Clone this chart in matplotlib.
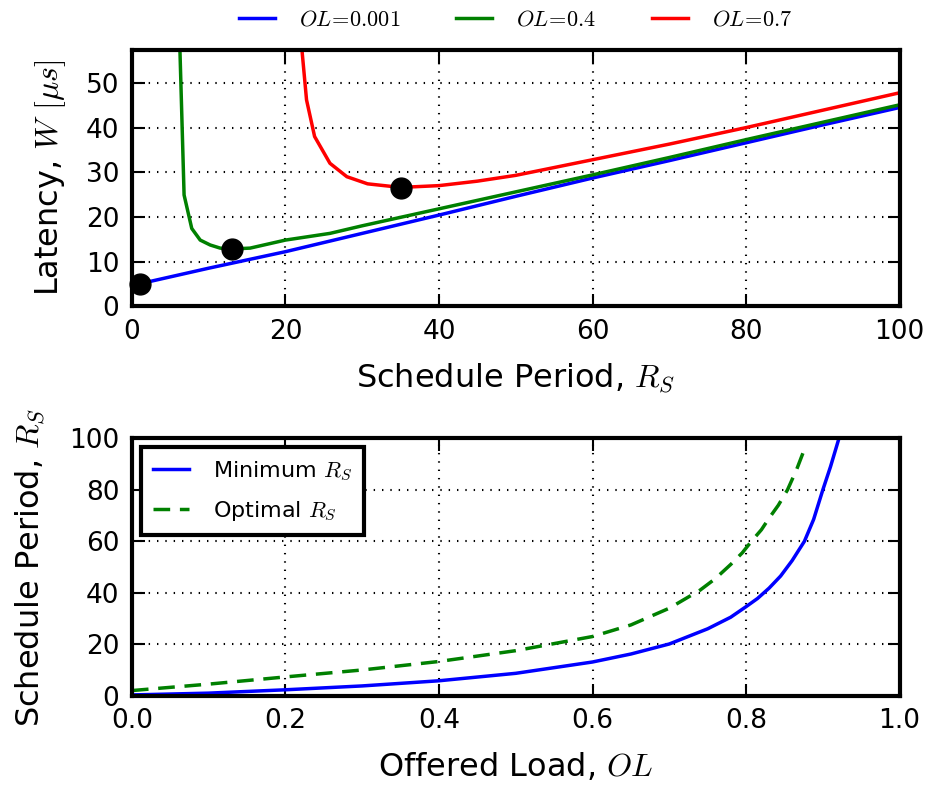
import numpy as np
import matplotlib
matplotlib.use("Agg")
import matplotlib.pyplot as plt

plt.rcParams['mathtext.fontset'] = 'cm'
plt.rcParams['font.family'] = 'DejaVu Sans'
plt.rcParams['lines.scale_dashes'] = False

# latency vs schedule period, one curve per offered load
rs_low = [1, 10, 20, 30, 40, 50, 60, 70, 80, 90, 100]
w_low = [5.0, 8.5, 12.2, 16.3, 20.4, 24.6, 28.7, 32.6, 36.6, 40.6, 44.5]

rs_mid = [5.8, 6.8, 7.8, 8.9, 10.2, 11.5, 12.9, 15.4, 20, 25.8, 30, 40, 50, 60, 70, 80, 90, 100]
w_mid = [85, 24.9, 17.4, 14.8, 13.7, 13.0, 12.8, 13.0, 14.8, 16.3, 18.0, 21.8, 25.6, 29.4, 33.3, 37.3, 41.2, 45.1]

rs_high = [21.8, 22.75, 23.8, 25.8, 28.0, 30.7, 35, 40, 45, 50, 60, 70, 80, 90, 100]
w_high = [64, 46.2, 38.0, 32.0, 29.0, 27.4, 26.6, 27.0, 28.0, 29.3, 32.8, 36.3, 40.0, 43.9, 47.8]

ol_labels = [r'$OL\!=\!0.001$', r'$OL\!=\!0.4$', r'$OL\!=\!0.7$']
ol_colors = ['blue', 'green', 'red']

# optimal points (black dots)
opt_rs = [1, 13, 35]
opt_w = [5.0, 12.9, 26.5]

# schedule period vs offered load
ol_min = [0.0, 0.1, 0.2, 0.3, 0.4, 0.5, 0.6, 0.65, 0.7, 0.75, 0.78, 0.8, 0.815, 0.83,
          0.845, 0.86, 0.876, 0.888, 0.90, 0.91, 0.921]
rs_min = [0.3, 1.0, 2.3, 3.8, 5.8, 8.7, 13.1, 16.2, 20.1, 26.0, 30.5, 34.6, 37.8, 41.8,
          46.5, 52.5, 60.0, 68.5, 80.0, 89.0, 100.0]

ol_opt = [0.0, 0.1, 0.2, 0.3, 0.4, 0.5, 0.6, 0.65, 0.7, 0.74, 0.76, 0.78, 0.795, 0.807,
          0.82, 0.83, 0.842, 0.854, 0.866, 0.8776]
rs_opt = [2.0, 4.5, 7.3, 10.0, 13.3, 17.5, 23.0, 27.5, 34.0, 41.0, 45.5, 51.0, 55.5, 60.0,
          64.5, 69.0, 74.0, 80.0, 88.0, 97.0]

fig = plt.figure(figsize=(9.42, 7.87), dpi=100)
ax1 = fig.add_axes([0.140, 0.611, 0.815, 0.325])
ax2 = fig.add_axes([0.140, 0.116, 0.815, 0.327])

lines = []
for xs, ys, c, lab in zip([rs_low, rs_mid, rs_high], [w_low, w_mid, w_high], ol_colors, ol_labels):
    l, = ax1.plot(xs, ys, color=c, lw=2.5, label=lab)
    lines.append(l)
ax1.plot(opt_rs, opt_w, 'o', color='black', markersize=15, zorder=5, clip_on=False)
ax1.set_xlim(0, 100)
ax1.set_ylim(0, 57.3)
ax1.set_yticks([0, 10, 20, 30, 40, 50])
ax1.set_xlabel(r'Schedule Period, $R_S$', fontsize=23, labelpad=12)
ax1.set_ylabel(r'Latency, $W\ [\mu s]$', fontsize=23)

fig.legend(handles=lines, loc='center', bbox_to_anchor=(0.548, 0.975), ncol=3,
           frameon=False, fontsize=16, handlelength=1.6, handletextpad=1.1,
           columnspacing=2.5)

ax2.plot(ol_min, rs_min, color='blue', lw=2.5, label=r'Minimum $R_S$')
ax2.plot(ol_opt, rs_opt, color='green', lw=2.5, dashes=(12, 7), label=r'Optimal $R_S$')
ax2.set_xlim(0, 1)
ax2.set_ylim(0, 100)
ax2.set_yticks([0, 20, 40, 60, 80, 100])
ax2.set_xlabel(r'Offered Load, $OL$', fontsize=23, labelpad=12)
ax2.set_ylabel(r'Schedule Period, $R_S$', fontsize=23)
leg = ax2.legend(loc='upper left', fontsize=16, handlelength=1.6, handletextpad=1.1,
                 fancybox=False, framealpha=1, borderpad=0.55, labelspacing=0.75,
                 borderaxespad=0.4)
leg.get_frame().set_edgecolor('black')
leg.get_frame().set_linewidth(3)

for ax in (ax1, ax2):
    ax.grid(True, color='black', linestyle=(0, (1, 5)), lw=1.5)
    ax.tick_params(direction='in', length=9, width=1.5, top=True, right=True,
                   labelsize=19, pad=9)
    for s in ax.spines.values():
        s.set_linewidth(3)
ax1.yaxis.set_label_coords(-0.083, 0.5)
ax2.yaxis.set_label_coords(-0.11, 0.5)

fig.savefig('out.png', dpi=100)
